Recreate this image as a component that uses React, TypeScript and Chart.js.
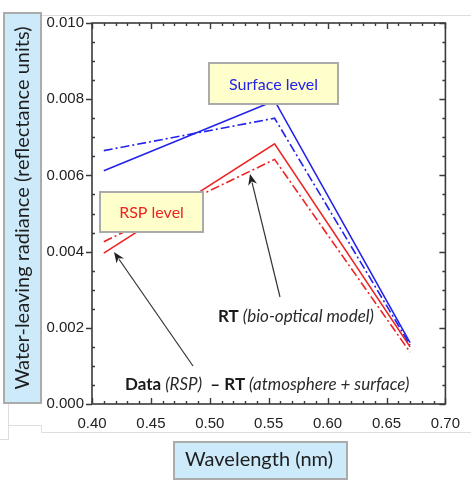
import React, { useEffect, useRef } from "react";
import { Chart, registerables } from "chart.js";

Chart.register(...registerables);

// ---- data ----
const wavelengths = [0.41, 0.555, 0.67];
const surfaceData = [0.00612, 0.00796, 0.00161];
const surfaceRT = [0.00665, 0.0075, 0.00155];
const rspData = [0.00396, 0.00683, 0.0015];
const rspRT = [0.00426, 0.00642, 0.00136];

const xMin = 0.4;
const xMax = 0.7;
const yMin = 0;
const yMax = 0.01;

const yTitle = "Water-leaving radiance (reflectance units)";
const xTitle = "Wavelength (nm)";
const surfaceLabel = "Surface level";
const rspLabel = "RSP level";

const BLUE = "rgb(35,35,235)";
const RED = "rgb(238,35,35)";
const TEXTFONT = "Lato";

function pts(ys: number[]) {
  return wavelengths.map((x, i) => ({ x, y: ys[i] }));
}

function drawSegments(ctx: CanvasRenderingContext2D, x: number, y: number, segs: [string, string, string][]) {
  let cx = x;
  ctx.textBaseline = "middle";
  ctx.textAlign = "left";
  for (const [t, f, c] of segs) {
    ctx.font = f;
    ctx.fillStyle = c;
    ctx.fillText(t, cx, y);
    cx += ctx.measureText(t).width;
  }
}

function arrow(ctx: CanvasRenderingContext2D, x1: number, y1: number, x2: number, y2: number) {
  const ang = Math.atan2(y2 - y1, x2 - x1);
  const L = 11, W = 4.5;
  ctx.strokeStyle = "#333";
  ctx.fillStyle = "#222";
  ctx.lineWidth = 1.2;
  ctx.beginPath();
  ctx.moveTo(x1, y1);
  ctx.lineTo(x2 - Math.cos(ang) * L * 0.8, y2 - Math.sin(ang) * L * 0.8);
  ctx.stroke();
  ctx.beginPath();
  ctx.moveTo(x2, y2);
  ctx.lineTo(x2 - Math.cos(ang) * L + Math.sin(ang) * W, y2 - Math.sin(ang) * L - Math.cos(ang) * W);
  ctx.lineTo(x2 - Math.cos(ang) * L * 0.7, y2 - Math.sin(ang) * L * 0.7);
  ctx.lineTo(x2 - Math.cos(ang) * L - Math.sin(ang) * W, y2 - Math.sin(ang) * L + Math.cos(ang) * W);
  ctx.closePath();
  ctx.fill();
}

function box(ctx: CanvasRenderingContext2D, x: number, y: number, w: number, h: number, fill: string) {
  ctx.fillStyle = fill;
  ctx.fillRect(x, y, w, h);
  ctx.strokeStyle = "#ababab";
  ctx.lineWidth = 2;
  ctx.strokeRect(x, y, w, h);
}

const decorPlugin = {
  id: "decor",
  beforeDraw(chart: any) {
    const ctx: CanvasRenderingContext2D = chart.ctx;
    ctx.save();
    ctx.fillStyle = "#fff";
    ctx.fillRect(0, 0, chart.width, chart.height);
    // faint screenshot frame lines
    ctx.strokeStyle = "#dedede";
    ctx.lineWidth = 1;
    ctx.beginPath();
    ctx.moveTo(41, 15.5); ctx.lineTo(471, 15.5);
    ctx.moveTo(8.5, 403); ctx.lineTo(8.5, 440);
    ctx.moveTo(0, 439.5); ctx.lineTo(8.5, 439.5);
    ctx.moveTo(8.5, 425.5); ctx.lineTo(41.5, 425.5);
    ctx.moveTo(41.5, 425.5); ctx.lineTo(41.5, 432.5);
    ctx.moveTo(41.5, 432.5); ctx.lineTo(471, 432.5);
    ctx.stroke();
    ctx.restore();
  },
  afterDatasetsDraw(chart: any) {
    const ctx: CanvasRenderingContext2D = chart.ctx;
    const { left, right, top, bottom } = chart.chartArea;
    const xs = chart.scales.x;
    const ys = chart.scales.y;
    ctx.save();
    // frame
    ctx.strokeStyle = "#3a3a3a";
    ctx.lineWidth = 1.6;
    ctx.strokeRect(left, top, right - left, bottom - top);
    ctx.lineWidth = 1.4;
    ctx.beginPath();
    for (let i = 0; i <= 30; i++) {
      const v = xMin + i * 0.01;
      const px = Math.round(xs.getPixelForValue(v)) + 0.5;
      const len = i % 5 === 0 ? 6 : 3;
      ctx.moveTo(px, bottom); ctx.lineTo(px, bottom - len);
      ctx.moveTo(px, top); ctx.lineTo(px, top + len);
    }
    for (let i = 0; i <= 20; i++) {
      const v = yMin + i * 0.0005;
      const py = Math.round(ys.getPixelForValue(v)) + 0.5;
      const major = i % 4 === 0;
      if (major) { ctx.moveTo(left - 6, py); ctx.lineTo(left, py); }
      else { ctx.moveTo(left, py); ctx.lineTo(left + 3, py); }
      ctx.moveTo(right, py); ctx.lineTo(right - (major ? 6 : 3), py);
    }
    ctx.stroke();

    // annotation boxes
    box(ctx, 209, 63, 129, 41, "#ffffcc");
    ctx.font = `16px ${TEXTFONT}`;
    ctx.fillStyle = BLUE;
    ctx.textAlign = "center";
    ctx.textBaseline = "middle";
    ctx.fillText(surfaceLabel, 273.5, 84.5);

    box(ctx, 100, 192, 103, 40, "#ffffcc");
    ctx.fillStyle = RED;
    ctx.fillText(rspLabel, 151.5, 212.5);

    // arrows
    arrow(ctx, 193, 366, 114, 252);
    arrow(ctx, 280, 297, 250, 174);

    // labels
    drawSegments(ctx, 218, 317, [
      ["RT", `bold 17px ${TEXTFONT}`, "#1a1a1a"],
      [" (bio-optical model)", `italic 17px ${TEXTFONT}`, "#2a2a2a"],
    ]);
    drawSegments(ctx, 125, 385, [
      ["Data", `bold 17px ${TEXTFONT}`, "#1a1a1a"],
      [" (RSP)", `italic 17px ${TEXTFONT}`, "#2a2a2a"],
      ["  \u2013 RT", `bold 17px ${TEXTFONT}`, "#1a1a1a"],
      [" (atmosphere + surface)", `italic 17px ${TEXTFONT}`, "#2a2a2a"],
    ]);

    // axis title boxes
    box(ctx, 4, 13, 37, 390, "#cdeafb");
    ctx.save();
    ctx.translate(23, 208);
    ctx.rotate(-Math.PI / 2);
    ctx.font = `20px ${TEXTFONT}`;
    ctx.fillStyle = "#1e1e1e";
    ctx.textAlign = "center";
    ctx.textBaseline = "middle";
    ctx.fillText(yTitle, 0, 0);
    ctx.restore();

    box(ctx, 174, 442, 173, 37, "#cdeafb");
    ctx.font = `20px ${TEXTFONT}`;
    ctx.fillStyle = "#1e1e1e";
    ctx.textAlign = "center";
    ctx.textBaseline = "middle";
    ctx.fillText(xTitle, 259, 460);
    ctx.restore();
  },
};

export default function App() {
  const ref = useRef<HTMLCanvasElement | null>(null);
  useEffect(() => {
    if (!ref.current) return;
    const mk = (label: string, ys: number[], color: string, dash: number[]) => ({
      label,
      data: pts(ys),
      borderColor: color,
      backgroundColor: color,
      borderWidth: 1.6,
      borderDash: dash,
      pointRadius: 0,
      tension: 0,
      fill: false,
    });
    const chart = new Chart(ref.current, {
      type: "line",
      data: {
        datasets: [
          mk("Surface data", surfaceData, BLUE, []),
          mk("Surface RT", surfaceRT, BLUE, [9, 3, 2, 3]),
          mk("RSP data", rspData, RED, []),
          mk("RSP RT", rspRT, RED, [9, 3, 2, 3]),
        ],
      },
      options: {
        animation: false,
        responsive: false,
        devicePixelRatio: 1,
        layout: { padding: { top: 23, right: 23, left: 0, bottom: 0 } },
        plugins: { legend: { display: false }, tooltip: { enabled: false } },
        scales: {
          x: {
            type: "linear",
            min: xMin,
            max: xMax,
            grid: { display: false, drawTicks: false },
            border: { display: false },
            ticks: {
              stepSize: 0.05,
              padding: 11,
              color: "#222",
              font: { family: "Liberation Sans", size: 15 },
              maxRotation: 0,
              callback: (v: any) => Number(v).toFixed(2),
            },
            afterFit: (s: any) => { s.height = 79; },
          },
          y: {
            type: "linear",
            min: yMin,
            max: yMax,
            grid: { display: false, drawTicks: false },
            border: { display: false },
            ticks: {
              stepSize: 0.002,
              padding: 8,
              color: "#222",
              font: { family: "Liberation Sans", size: 15 },
              callback: (v: any) => Number(v).toFixed(3),
            },
            afterFit: (s: any) => { s.width = 92; },
          },
        },
      },
      plugins: [decorPlugin],
    });
    return () => chart.destroy();
  }, []);
  return (
    <div style={{ position: "absolute", left: 0, top: 0, width: 471, height: 483 }}>
      <canvas ref={ref} width={471} height={483} style={{ width: 471, height: 483, display: "block" }} />
    </div>
  );
}
